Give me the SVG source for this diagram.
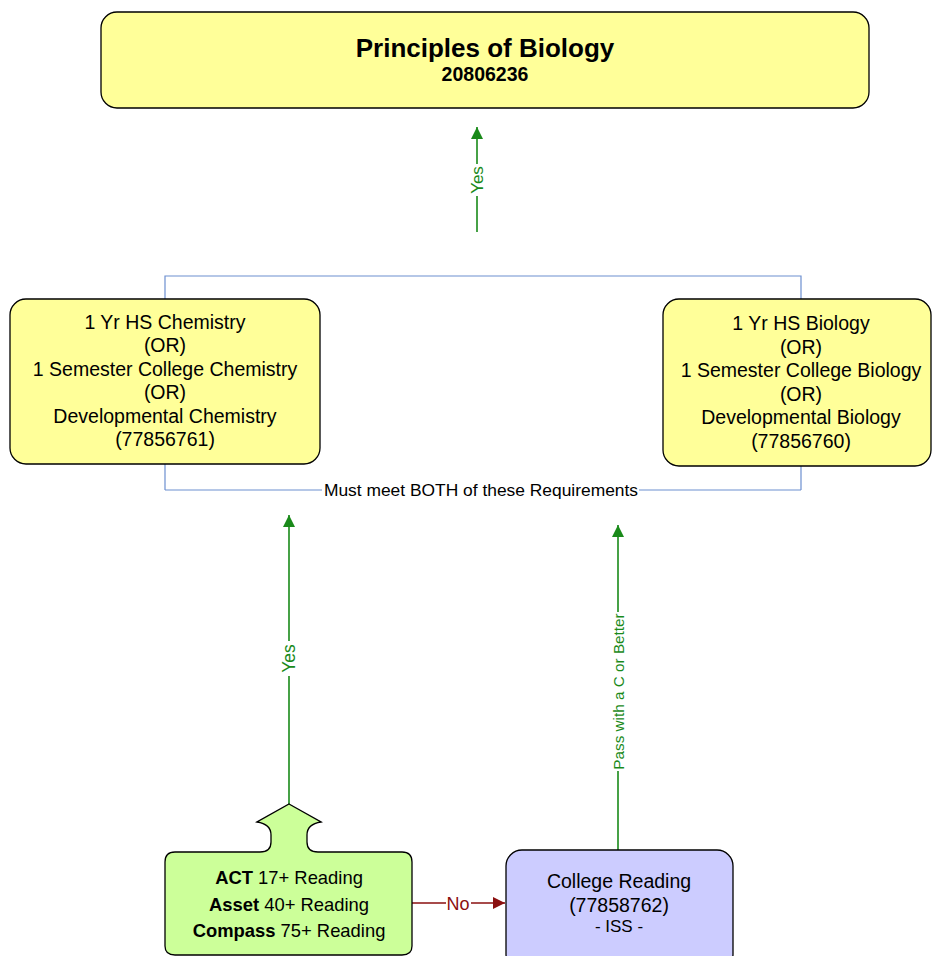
<svg xmlns="http://www.w3.org/2000/svg" width="932" height="956" viewBox="0 0 932 956">
<style>
text{font-family:"Liberation Sans",Arial,sans-serif;fill:#000;text-anchor:middle}
.box{stroke:#000;stroke-width:1.3}
.yel{fill:#FFFF99}
.grn{fill:#CCFF99}
.blu{fill:#CCCCFF}
.t{font-size:19.5px}
.tg{font-size:18.4px}
.g{stroke:#1A8A1A;stroke-width:1.6;fill:none}
.r{stroke:#8B1010;stroke-width:1.6;fill:none}
.gl{fill:#1A8A1A}
.rl{fill:#8B1010;font-size:18px}
</style>
<defs>
<marker id="ag" markerWidth="12" markerHeight="14" refX="10" refY="5" orient="auto" markerUnits="userSpaceOnUse" viewBox="0 0 10 10"><path d="M0,0 L10,5 L0,10 z" fill="#1A8A1A"/></marker>
<marker id="ar" markerWidth="12" markerHeight="14" refX="10" refY="5" orient="auto" markerUnits="userSpaceOnUse" viewBox="0 0 10 10"><path d="M0,0 L10,5 L0,10 z" fill="#8B1010"/></marker>
</defs>
<g id="connectors">
<path d="M165,490 V276 H801 V490" stroke="#6D8FD0" stroke-width="1.2" fill="none"/>
<path d="M165,490 H322 M639,490 H801" stroke="#6D8FD0" stroke-width="1.2" fill="none"/>
<text x="481" y="496" style="font-size:17.4px">Must meet BOTH of these Requirements</text>
<path class="g" d="M477,232 V196 M477,164 V127" marker-end="url(#ag)"/>
<text class="gl" style="font-size:17px" transform="translate(483,180) rotate(-90)">Yes</text>
<path class="g" d="M289,804 V676 M289,641 V515" marker-end="url(#ag)"/>
<text class="gl" style="font-size:17.5px" transform="translate(295,658.5) rotate(-90)">Yes</text>
<path class="g" d="M618,850 V771 M618,612 V525" marker-end="url(#ag)"/>
<text class="gl" style="font-size:15.3px" transform="translate(623.5,691.5) rotate(-90)">Pass with a C or Better</text>
<path class="r" d="M412,903 H446 M471,903 H505" marker-end="url(#ar)"/>
<text class="rl" x="458" y="909.5">No</text>
</g>
<g id="principles">
<rect class="box yel" x="101" y="12" width="768" height="96" rx="16"/>
<text x="485" y="57" style="font-size:26px;font-weight:bold">Principles of Biology</text>
<text x="485" y="80.5" style="font-size:19.5px;font-weight:bold">20806236</text>
</g>
<g id="chemistry">
<rect class="box yel" x="10" y="299" width="310" height="165" rx="16"/>
<text class="t" x="165" y="329">1 Yr HS Chemistry</text>
<text class="t" x="165" y="352">(OR)</text>
<text class="t" x="165" y="376">1 Semester College Chemistry</text>
<text class="t" x="165" y="399">(OR)</text>
<text class="t" x="165" y="423">Developmental Chemistry</text>
<text class="t" x="165" y="446">(77856761)</text>
</g>
<g id="biology">
<rect class="box yel" x="663" y="299" width="268" height="167" rx="16"/>
<text class="t" x="801" y="330">1 Yr HS Biology</text>
<text class="t" x="801" y="354">(OR)</text>
<text class="t" x="801" y="377">1 Semester College Biology</text>
<text class="t" x="801" y="401">(OR)</text>
<text class="t" x="801" y="424">Developmental Biology</text>
<text class="t" x="801" y="448">(77856760)</text>
</g>
<g id="tests">
<path class="box grn" d="M289,804 L321,822 Q307,824 307,835 V842 Q307,852 318,852 H402 Q412,852 412,862 V946 Q412,955 402,955 H175 Q165,955 165,946 V862 Q165,852 175,852 H260 Q271,852 271,842 V835 Q271,824 257,822 Z"/>
<text class="tg" x="289" y="884"><tspan font-weight="bold">ACT</tspan> 17+ Reading</text>
<text class="tg" x="289" y="911"><tspan font-weight="bold">Asset</tspan> 40+ Reading</text>
<text class="tg" x="289" y="937"><tspan font-weight="bold">Compass</tspan> 75+ Reading</text>
</g>
<g id="college-reading">
<rect class="box blu" x="506" y="850" width="227" height="120" rx="16"/>
<text class="t" x="619" y="888">College Reading</text>
<text class="t" x="619" y="912">(77858762)</text>
<text x="619" y="932" style="font-size:17px">- ISS -</text>
</g>
</svg>
